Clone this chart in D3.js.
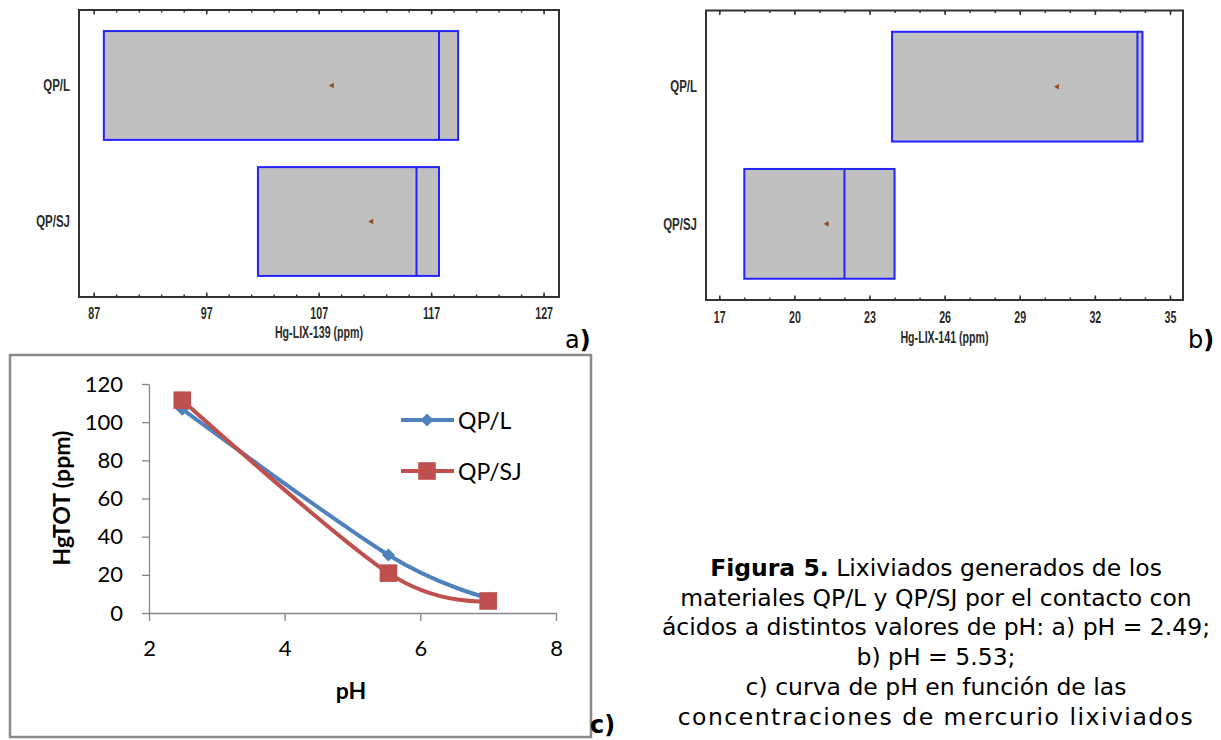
<!DOCTYPE html>
<html>
<head>
<meta charset="utf-8">
<script src="https://cdn.jsdelivr.net/npm/d3@7"></script>
<style>
body { margin: 0; background: #fff; }
svg { display: block; }
.narrow { font-family: "Liberation Sans", Arial, sans-serif; font-weight: bold; fill: #2b2b2b; }
.excel { font-family: Lato, "Open Sans", sans-serif; fill: #000; }
.caption { font-family: "DejaVu Sans", Verdana, sans-serif; font-size: 23.5px; fill: #000; }
</style>
</head>
<body>
<div id="drawing_region"></div>
<script>
const categories = ["QP/L", "QP/SJ"];

// a) pH = 2.49  (Hg-LIX-139, ppm)
const lix139Low = [87.9, 101.6];
const lix139Median = [117.7, 115.7];
const lix139High = [119.4, 117.7];
const lix139Mean = [108.2, 111.7];
const lix139Ticks = [87, 97, 107, 117, 127];

// b) pH = 5.53  (Hg-LIX-141, ppm)
const lix141Low = [23.9, 18.0];
const lix141Median = [33.7, 22.0];
const lix141High = [33.9, 24.0];
const lix141Mean = [30.5, 21.3];
const lix141Ticks = [17, 20, 23, 26, 29, 32, 35];

// c) HgTOT vs pH
const phValues = [2.49, 5.53, 7];
const hgQPL = [106.8, 30.4, 7.9];
const hgQPSJ = [111.5, 20.9, 6.3];
const phTicks = [2, 4, 6, 8];
const hgTicks = [0, 20, 40, 60, 80, 100, 120];

const captionLines = [
    ["Figura 5.", " Lixiviados generados de los"],
    ["", "materiales QP/L y QP/SJ por el contacto con"],
    ["", "ácidos a distintos valores de pH: a) pH = 2.49;"],
    ["", "b) pH = 5.53;"],
    ["", "c) curva de pH en función de las"],
    ["", "concentraciones de mercurio lixiviados"]
];

const svg = d3.select('#drawing_region').append('svg')
    .attr('width', 1221)
    .attr('height', 740);

// condensed, tall look of the statistics package labels
const squeeze = 'scale(0.82,1.2)';

function boxPanel(cfg) {
    const x = d3.scaleLinear().domain(cfg.domain).range([cfg.left, cfg.right]);
    const y = d3.scaleBand().domain(categories)
        .range([cfg.top, cfg.bottom])
        .paddingInner(0.2).paddingOuter(0.155);
    const g = svg.append('g');
    const rows = categories.map((c, i) => ({
        c: c, lo: cfg.low[i], med: cfg.median[i], hi: cfg.high[i], mean: cfg.mean[i]
    }));

    g.selectAll('rect.box').data(rows).join('rect')
        .attr('class', 'box')
        .attr('x', d => x(d.lo))
        .attr('y', d => y(d.c))
        .attr('width', d => x(d.hi) - x(d.lo))
        .attr('height', y.bandwidth())
        .attr('fill', '#c0c0c0')
        .attr('stroke', '#2323ff')
        .attr('stroke-width', 2);

    g.selectAll('line.med').data(rows).join('line')
        .attr('class', 'med')
        .attr('x1', d => x(d.med)).attr('x2', d => x(d.med))
        .attr('y1', d => y(d.c)).attr('y2', d => y(d.c) + y.bandwidth())
        .attr('stroke', '#2323ff')
        .attr('stroke-width', 2);

    g.selectAll('path.mean').data(rows).join('path')
        .attr('class', 'mean')
        .attr('d', d3.symbol(d3.symbolTriangle, 14))
        .attr('transform', d => `translate(${x(d.mean)},${y(d.c) + y.bandwidth() / 2}) rotate(-90)`)
        .attr('fill', '#9a4a1e');

    // ticks: minor and major, pointing inward on top and bottom
    const minor = d3.range(cfg.ticks[0], cfg.domain[1], cfg.minorStep);
    [[d3.axisBottom, cfg.bottom], [d3.axisTop, cfg.top]].forEach(([axis, pos]) => {
        g.append('g').attr('transform', `translate(0,${pos})`)
            .call(axis(x).tickValues(minor).tickSizeInner(-2.5).tickSizeOuter(0).tickFormat(''))
            .call(s => s.select('.domain').remove())
            .call(s => s.selectAll('line').attr('stroke', '#333').attr('stroke-width', 1.5));
        g.append('g').attr('transform', `translate(0,${pos})`)
            .call(axis(x).tickValues(cfg.ticks).tickSizeInner(-4.5).tickSizeOuter(0)
                .tickPadding(axis === d3.axisBottom ? cfg.labelPad : 0)
                .tickFormat(axis === d3.axisBottom ? d3.format('d') : ''))
            .call(s => s.select('.domain').remove())
            .call(s => s.selectAll('line').attr('stroke', '#333').attr('stroke-width', 1.5))
            .call(s => s.selectAll('text').attr('class', 'narrow')
                .attr('transform', squeeze).style('font-size', '13px'));
    });

    g.append('rect')
        .attr('x', cfg.left).attr('y', cfg.top)
        .attr('width', cfg.right - cfg.left).attr('height', cfg.bottom - cfg.top)
        .attr('fill', 'none').attr('stroke', '#333').attr('stroke-width', 2);

    g.selectAll('text.cat').data(categories).join('text')
        .attr('class', 'narrow')
        .attr('transform', d => `translate(${cfg.left - 9},${y(d) + y.bandwidth() / 2}) ${squeeze}`)
        .attr('text-anchor', 'end')
        .attr('dominant-baseline', 'central')
        .style('font-size', '14px')
        .text(d => d);

    g.append('text')
        .attr('class', 'narrow')
        .attr('transform', `translate(${(cfg.left + cfg.right) / 2},${cfg.bottom + cfg.titlePad}) ${squeeze}`)
        .attr('text-anchor', 'middle')
        .attr('dominant-baseline', 'central')
        .style('font-size', '13px')
        .text(cfg.title);

    const lab = g.append('text')
        .attr('x', cfg.tagX).attr('y', 348)
        .style('font-family', '"DejaVu Sans", Verdana, sans-serif')
        .style('font-size', '24px');
    lab.append('tspan').text(cfg.tag);
    lab.append('tspan').attr('font-weight', 'bold').text(')');
}

boxPanel({
    left: 79, right: 559, top: 10, bottom: 297,
    domain: [85.69, 128.37], ticks: lix139Ticks, minorStep: 2,
    low: lix139Low, median: lix139Median, high: lix139High, mean: lix139Mean,
    title: 'Hg-LIX-139 (ppm)', labelPad: 8.8, titlePad: 36,
    tag: 'a', tagX: 565
});

boxPanel({
    left: 706, right: 1183, top: 10.5, bottom: 300,
    domain: [16.47, 35.52], ticks: lix141Ticks, minorStep: 1,
    low: lix141Low, median: lix141Median, high: lix141High, mean: lix141Mean,
    title: 'Hg-LIX-141 (ppm)', labelPad: 9.6, titlePad: 38,
    tag: 'b', tagX: 1188
});

// c) line chart
const gc = svg.append('g');
gc.append('rect')
    .attr('x', 10).attr('y', 355).attr('width', 581).attr('height', 382)
    .attr('fill', 'none').attr('stroke', '#8a8a8a').attr('stroke-width', 2.5);

const cx = d3.scaleLinear().domain([2, 8]).range([149, 556]);
const cy = d3.scaleLinear().domain([0, 120]).range([613, 384]);

gc.append('g').attr('transform', 'translate(0,613)')
    .call(d3.axisBottom(cx).tickValues(phTicks).tickSize(8).tickSizeOuter(0).tickPadding(19).tickFormat(d3.format('d')))
    .call(s => s.selectAll('line, .domain').attr('stroke', '#868686').attr('stroke-width', 1.3))
    .call(s => s.selectAll('text').attr('class', 'excel').style('font-size', '22px'));

gc.append('g').attr('transform', 'translate(149,0)')
    .call(d3.axisLeft(cy).tickValues(hgTicks).tickSize(7).tickSizeOuter(0).tickPadding(19).tickFormat(d3.format('d')))
    .call(s => s.selectAll('line, .domain').attr('stroke', '#868686').attr('stroke-width', 1.3))
    .call(s => s.selectAll('text').attr('class', 'excel').style('font-size', '22px'));

gc.append('text')
    .attr('class', 'excel')
    .attr('transform', 'translate(61,498) rotate(-90)')
    .attr('text-anchor', 'middle')
    .attr('dominant-baseline', 'central')
    .style('font-size', '23px').style('font-weight', 'bold')
    .text('HgTOT (ppm)');

gc.append('text')
    .attr('class', 'excel')
    .attr('x', 351).attr('y', 690)
    .attr('text-anchor', 'middle')
    .attr('dominant-baseline', 'central')
    .style('font-size', '23px').style('font-weight', 'bold')
    .text('pH');

const series = [
    { name: 'QP/L', values: hgQPL, color: '#4f81bd', marker: 'diamond', legendY: 420 },
    { name: 'QP/SJ', values: hgQPSJ, color: '#c0504d', marker: 'square', legendY: 471 }
];

const line = d3.line()
    .x((d, i) => cx(phValues[i]))
    .y(d => cy(d))
    .curve(d3.curveCardinal.tension(0));

function marker(sel, s) {
    if (s.marker === 'diamond') {
        sel.attr('d', d3.symbol(d3.symbolSquare, 85)).attr('fill', s.color);
    } else {
        sel.attr('d', d3.symbol(d3.symbolSquare, 310)).attr('fill', s.color);
    }
}

series.forEach(s => {
    gc.append('path')
        .attr('d', line(s.values))
        .attr('fill', 'none')
        .attr('stroke', s.color)
        .attr('stroke-width', 4)
        .attr('stroke-linecap', 'round');
    gc.selectAll(null).data(s.values).join('path')
        .call(marker, s)
        .attr('transform', (d, i) => `translate(${cx(phValues[i])},${cy(d)})` + (s.marker === 'diamond' ? ' rotate(45)' : ''));

    gc.append('line')
        .attr('x1', 401).attr('x2', 454)
        .attr('y1', s.legendY).attr('y2', s.legendY)
        .attr('stroke', s.color).attr('stroke-width', 4);
    gc.append('path')
        .call(marker, s)
        .attr('transform', `translate(427,${s.legendY})` + (s.marker === 'diamond' ? ' rotate(45)' : ''));
    gc.append('text')
        .attr('class', 'excel')
        .attr('x', 458).attr('y', s.legendY)
        .attr('dominant-baseline', 'central')
        .style('font-size', '23px')
        .text(s.name);
});

svg.append('text')
    .attr('x', 590).attr('y', 733)
    .style('font-family', '"DejaVu Sans", Verdana, sans-serif')
    .style('font-size', '24px').style('font-weight', 'bold')
    .text('c)');

// caption
const cap = svg.append('text').attr('class', 'caption').attr('text-anchor', 'middle');
captionLines.forEach((l, i) => {
    const t = cap.append('tspan').attr('x', 936).attr('y', 576 + i * 29.7);
    if (i === captionLines.length - 1) t.attr('letter-spacing', '1.5px');
    if (l[0]) t.append('tspan').attr('font-weight', 'bold').text(l[0]);
    t.append('tspan').text(l[1]);
});
</script>
</body>
</html>
